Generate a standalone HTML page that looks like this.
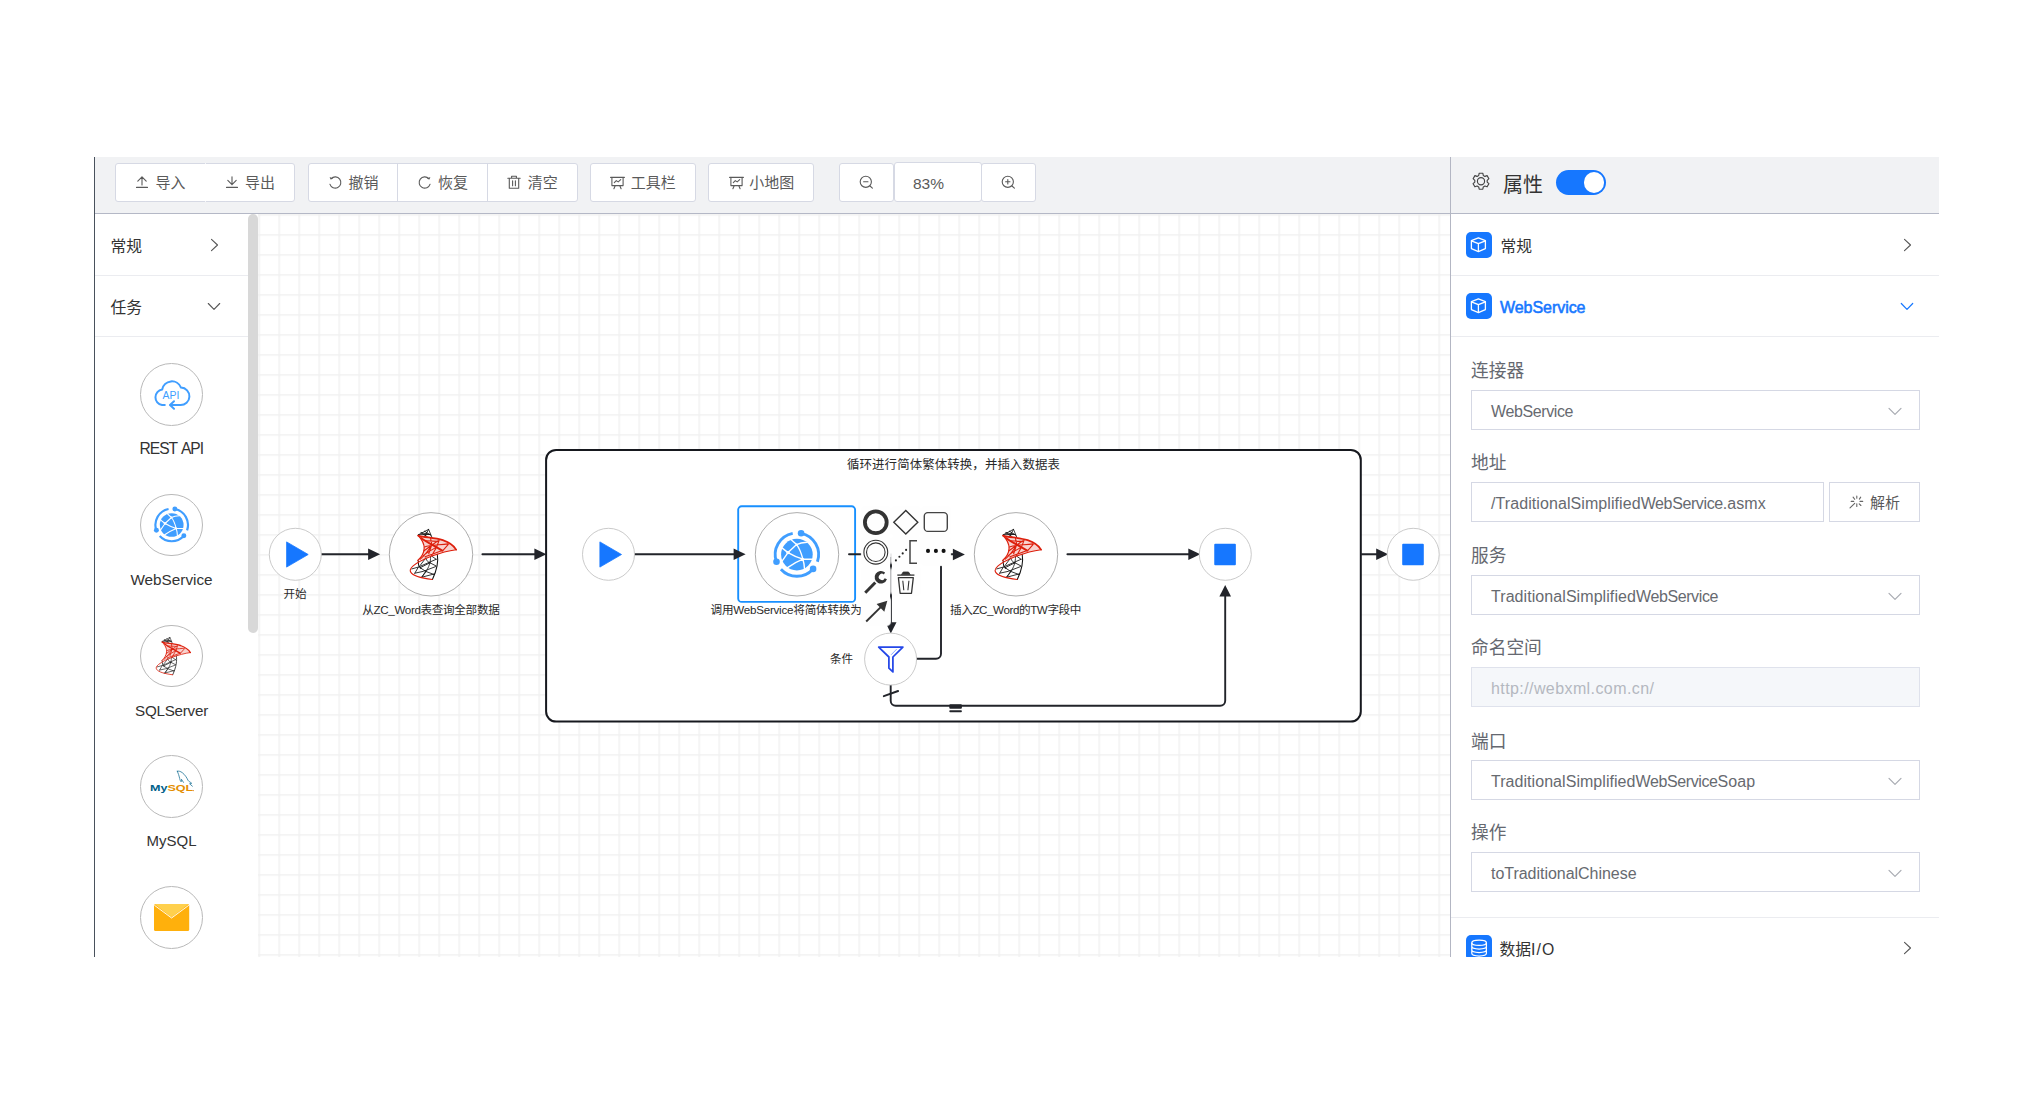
<!DOCTYPE html>
<html lang="zh-CN"><head><meta charset="utf-8"><title>流程设计器</title>
<style>
*{box-sizing:border-box;margin:0;padding:0}
html,body{width:2044px;height:1112px;background:#fff;overflow:hidden}
body{position:relative;font-family:"Liberation Sans","Noto Sans CJK SC",sans-serif;color:#333;-webkit-font-smoothing:antialiased}
.abs{position:absolute}
.t{position:absolute;white-space:nowrap;line-height:1;}
.btn{position:absolute;top:163px;height:39px;background:#fff;border:1px solid #d6d9e4;border-radius:3px}
.hdr{position:absolute;left:95px;top:157px;width:1844px;height:56px;background:#f1f2f4}
.hline{position:absolute;left:95px;top:213px;width:1844px;height:1px;background:#b4b8c6}
.lborder{position:absolute;left:94px;top:157px;width:1px;height:800px;background:#49515c}
.ht{position:absolute;white-space:nowrap;line-height:1;font-size:15px;color:#5a5a5a;top:175px}
.ico{position:absolute;overflow:visible}
.sep{position:absolute;height:1px;background:#ebecf0}
.lab{position:absolute;white-space:nowrap;line-height:1;font-size:17.700px;color:#656870;left:1471px}
.fld{position:absolute;left:1471px;width:449px;height:40px;border:1px solid #d5d8e4;background:#fff}
.fv{position:absolute;white-space:nowrap;line-height:1;color:#676a70;left:1491px}
.pl{position:absolute;white-space:nowrap;line-height:1;color:#333;text-align:center}
</style></head>
<body>
<div class="hdr"></div><div class="hline"></div><div class="lborder"></div>
<div class="btn" style="left:115px;width:180px;"></div>
<div class="btn" style="left:308px;width:270px;"></div>
<div class="abs" style="left:205px;top:163px;width:1px;height:39px;background:rgba(255,255,255,.75)"></div><div class="abs" style="left:397px;top:164px;width:1px;height:37px;background:#d6d9e4"></div><div class="abs" style="left:487px;top:164px;width:1px;height:37px;background:#d6d9e4"></div>
<div class="btn" style="left:590px;width:106px;"></div>
<div class="btn" style="left:708px;width:106px;"></div>
<div class="btn" style="left:839px;width:55px;"></div>
<div class="btn" style="left:981px;width:55px;"></div>
<div class="btn" style="left:894px;width:88px;top:162px;height:40px"></div>
<div class="ht" style="left:155.5px;">导入</div>
<div class="ht" style="left:245px;">导出</div>
<div class="ht" style="left:348.5px;">撤销</div>
<div class="ht" style="left:438px;">恢复</div>
<div class="ht" style="left:527.8px;">清空</div>
<div class="ht" style="left:630.8px;">工具栏</div>
<div class="ht" style="left:749.2px;">小地图</div>
<div class="ht" style="left:913px;font-size:15.5px;top:175.5px">83%</div>
<svg class="ico" style="left:136px;top:176px" width="12" height="12" viewBox="0 0 12 12"><path d="M0.5 11.4H11.5M6 0.8V9M1.8 5.2L6 0.8L10.2 5.2" stroke="#5a5a5a" fill="none" stroke-width="1.1" stroke-linecap="round" stroke-linejoin="round"/></svg>
<svg class="ico" style="left:226px;top:176px" width="12" height="12" viewBox="0 0 12 12"><path d="M0.5 11.4H11.5M6 0.8V8.7M1.8 4.4L6 8.7L10.2 4.4" stroke="#5a5a5a" fill="none" stroke-width="1.1" stroke-linecap="round" stroke-linejoin="round"/></svg>
<svg class="ico" style="left:328px;top:175px" width="15" height="15" viewBox="0 0 15 15"><path d="M3.2 3.6A5.6 5.6 0 1 1 1.9 9.2" stroke="#5a5a5a" fill="none" stroke-width="1.1" stroke-linecap="round" stroke-linejoin="round"/><path d="M1.6 1.9L2.6 4.4L5.3 3.6Z" fill="#5a5a5a" stroke="none"/></svg>
<svg class="ico" style="left:417px;top:175px" width="15" height="15" viewBox="0 0 15 15"><path d="M11.8 3.6A5.6 5.6 0 1 0 13.1 9.2" stroke="#5a5a5a" fill="none" stroke-width="1.1" stroke-linecap="round" stroke-linejoin="round"/><path d="M13.4 1.9L12.4 4.4L9.7 3.6Z" fill="#5a5a5a" stroke="none"/></svg>
<svg class="ico" style="left:507px;top:175px" width="14" height="14" viewBox="0 0 14 14"><path d="M0.8 3.2H13.2M4.6 3V1.3H9.4V3M2.3 3.4V13.2H11.7V3.4M5.6 5.8V10.8M8.4 5.8V10.8" stroke="#5a5a5a" fill="none" stroke-width="1.1" stroke-linecap="round" stroke-linejoin="round"/></svg>
<svg class="ico" style="left:610px;top:176px" width="15" height="14" viewBox="0 0 15 14"><path d="M0.6 1.4H14.4M1.9 1.6V9.6H13.1V1.6M5.2 9.8L3.9 12.8M9.8 9.8L11.1 12.8M4.3 6.6L6.3 4.6L8.2 5.9L10.7 3.7" stroke="#5a5a5a" fill="none" stroke-width="1.1" stroke-linecap="round" stroke-linejoin="round"/></svg>
<svg class="ico" style="left:728.5px;top:176px" width="15" height="14" viewBox="0 0 15 14"><path d="M0.6 1.4H14.4M1.9 1.6V9.6H13.1V1.6M5.2 9.8L3.9 12.8M9.8 9.8L11.1 12.8M4.3 6.6L6.3 4.6L8.2 5.9L10.7 3.7" stroke="#5a5a5a" fill="none" stroke-width="1.1" stroke-linecap="round" stroke-linejoin="round"/></svg>
<svg class="ico" style="left:859px;top:175px" width="15" height="15" viewBox="0 0 15 15"><circle cx="6.8" cy="6.8" r="5.6" stroke="#5a5a5a" fill="none" stroke-width="1.1" stroke-linecap="round" stroke-linejoin="round"/><path d="M11 11L13.4 13.2M4.6 6.8H9" stroke="#5a5a5a" fill="none" stroke-width="1.1" stroke-linecap="round" stroke-linejoin="round"/></svg>
<svg class="ico" style="left:1000.700px;top:175px" width="15" height="15" viewBox="0 0 15 15"><circle cx="6.8" cy="6.8" r="5.6" stroke="#5a5a5a" fill="none" stroke-width="1.1" stroke-linecap="round" stroke-linejoin="round"/><path d="M11 11L13.4 13.2M4.6 6.8H9M6.8 4.6V9" stroke="#5a5a5a" fill="none" stroke-width="1.1" stroke-linecap="round" stroke-linejoin="round"/></svg>
<div class="abs" style="left:1450px;top:157px;width:1px;height:800px;background:#b3b6c3"></div>
<svg class="ico" style="left:1471px;top:172px" width="20" height="20" viewBox="0 0 20 20"><g fill="none" stroke="#444" stroke-width="1.15" stroke-linejoin="round"><path d="M8.2 1.2h3.6l.5 2.3 1.6.9 2.2-.8 1.8 3.1-1.7 1.6v1.8l1.7 1.6-1.8 3.1-2.2-.8-1.6.9-.5 2.3H8.2l-.5-2.3-1.6-.9-2.2.8-1.8-3.1 1.7-1.6V8.300l-1.700-1.600 1.800-3.100 2.200.8 1.600-.9z"/><circle cx="10" cy="9.200" r="3.600"/></g></svg>
<div class="t" style="left:1503px;top:174.500px;font-size:20px;color:#333">属性</div>
<div class="abs" style="left:1556px;top:170px;width:50px;height:25px;border-radius:13px;background:#1677ff"></div><div class="abs" style="left:1583.500px;top:172.300px;width:20.500px;height:20.500px;border-radius:50%;background:#fff"></div>
<div class="t" style="left:110.500px;top:239px;font-size:15.800px;color:#333">常规</div>
<div class="t" style="left:110.500px;top:300px;font-size:15.800px;color:#333">任务</div>
<div class="sep" style="left:95px;top:275px;width:153px"></div><div class="sep" style="left:95px;top:336px;width:153px"></div>
<svg class="ico" style="left:210px;top:238px" width="9" height="14" viewBox="0 0 9 14"><path d="M1.5 1.300L7.500 7L1.500 12.700" stroke="#555" fill="none" stroke-width="1.1" stroke-linecap="round" stroke-linejoin="round"/></svg>
<svg class="ico" style="left:207px;top:302px" width="14" height="9" viewBox="0 0 14 9"><path d="M1.300 1.500L7 7.300L12.700 1.500" stroke="#555" fill="none" stroke-width="1.1" stroke-linecap="round" stroke-linejoin="round"/></svg>
<div class="abs" style="left:248px;top:214px;width:10px;height:419px;border-radius:5px;background:#d8d8d8"></div>
<div class="abs" style="left:140.0px;top:362.9px;width:62.800px;height:62.800px;border-radius:50%;border:1px solid #b9b9b9;background:#fff"></div>
<div class="abs" style="left:140.0px;top:493.7px;width:62.800px;height:62.800px;border-radius:50%;border:1px solid #b9b9b9;background:#fff"></div>
<div class="abs" style="left:140.0px;top:624.5px;width:62.800px;height:62.800px;border-radius:50%;border:1px solid #b9b9b9;background:#fff"></div>
<div class="abs" style="left:140.0px;top:755.1px;width:62.800px;height:62.800px;border-radius:50%;border:1px solid #b9b9b9;background:#fff"></div>
<div class="abs" style="left:140.0px;top:886.0px;width:62.800px;height:62.800px;border-radius:50%;border:1px solid #b9b9b9;background:#fff"></div>
<div class="pl" style="left:111.30000000000001px;width:120px;top:441px;font-size:15.6px;letter-spacing:-1.050px;word-spacing:1.900px">REST API</div>
<div class="pl" style="left:111.5px;width:120px;top:571.5px;font-size:15.3px;">WebService</div>
<div class="pl" style="left:111.5px;width:120px;top:702.8px;font-size:15.2px;letter-spacing:-0.250px">SQLServer</div>
<div class="pl" style="left:111.5px;width:120px;top:833.3px;font-size:15px;">MySQL</div>
<svg class="ico" style="left:1466px;top:232px" width="26" height="26" viewBox="0 0 26 26"><rect width="26" height="26" rx="5" fill="#1677ff"/><g fill="none" stroke="#fff" stroke-width="1.300" stroke-linejoin="round"><path d="M12.400 5.900L19.400 8.600V16.600L12.400 19.600L5.400 16.600V8.600Z"/><path d="M5.400 8.800L12.400 11.600L19.400 8.800M12.400 11.600V19.600"/></g></svg>
<svg class="ico" style="left:1466px;top:293px" width="26" height="26" viewBox="0 0 26 26"><rect width="26" height="26" rx="5" fill="#1677ff"/><g fill="none" stroke="#fff" stroke-width="1.300" stroke-linejoin="round"><path d="M12.400 5.900L19.400 8.600V16.600L12.400 19.600L5.400 16.600V8.600Z"/><path d="M5.400 8.800L12.400 11.600L19.400 8.800M12.400 11.600V19.600"/></g></svg>
<div class="t" style="left:1500.500px;top:239px;font-size:15.800px;color:#333">常规</div>
<div class="t" style="left:1500px;top:300px;font-size:16px;color:#1677ff;-webkit-text-stroke:0.550px #1677ff;letter-spacing:-0.050px">WebService</div>
<svg class="ico" style="left:1902.500px;top:238px" width="9" height="14" viewBox="0 0 9 14"><path d="M1.500 1.300L7.500 7L1.500 12.700" stroke="#555" fill="none" stroke-width="1.1" stroke-linecap="round" stroke-linejoin="round"/></svg>
<svg class="ico" style="left:1900px;top:302px" width="14" height="9" viewBox="0 0 14 9"><path d="M1.300 1.500L7 7.300L12.700 1.500" stroke="#1677ff" fill="none" stroke-width="1.200" stroke-linecap="round" stroke-linejoin="round"/></svg>
<div class="sep" style="left:1451px;top:275px;width:488px"></div><div class="sep" style="left:1451px;top:336px;width:488px"></div><div class="sep" style="left:1451px;top:917px;width:488px"></div>
<div class="lab" style="top:363px">连接器</div>
<div class="lab" style="top:454.5px">地址</div>
<div class="lab" style="top:548px">服务</div>
<div class="lab" style="top:639.5px">命名空间</div>
<div class="lab" style="top:733.8px">端口</div>
<div class="lab" style="top:825.4px">操作</div>
<div class="fld" style="top:390px;"></div><div class="fv" id="fv0" style="top:404.3px;font-size:16px;letter-spacing:0px;"><span style="letter-spacing:-0.390px">WebService</span></div>
<svg class="ico" style="left:1888px;top:406.5px" width="14" height="9" viewBox="0 0 14 9"><path d="M1 1.300L7 7.300L13 1.300" stroke="#a8abb2" fill="none" stroke-width="1.200" stroke-linecap="round" stroke-linejoin="round"/></svg>
<div class="fld" style="top:482px;width:353px;"></div><div class="fv" id="fv1" style="top:496.3px;font-size:16px;letter-spacing:0.08px;">/TraditionalSimplified<span style="letter-spacing:-0.390px">WebService</span>.asmx</div>
<div class="fld" style="top:575px;"></div><div class="fv" id="fv2" style="top:589.3px;font-size:16px;letter-spacing:0.07px;">TraditionalSimplified<span style="letter-spacing:-0.390px">WebService</span></div>
<svg class="ico" style="left:1888px;top:591.5px" width="14" height="9" viewBox="0 0 14 9"><path d="M1 1.300L7 7.300L13 1.300" stroke="#a8abb2" fill="none" stroke-width="1.200" stroke-linecap="round" stroke-linejoin="round"/></svg>
<div class="fld" style="top:667px;background:#f5f7fa;border-color:#dfe2ec;"></div><div class="fv" id="fv3" style="top:681.3px;font-size:16px;letter-spacing:0.41px;color:#b4b8c0;">http://webxml.com.cn/</div>
<div class="fld" style="top:760px;"></div><div class="fv" id="fv4" style="top:774.3px;font-size:16px;letter-spacing:0.05px;">TraditionalSimplified<span style="letter-spacing:-0.390px">WebService</span>Soap</div>
<svg class="ico" style="left:1888px;top:776.5px" width="14" height="9" viewBox="0 0 14 9"><path d="M1 1.300L7 7.300L13 1.300" stroke="#a8abb2" fill="none" stroke-width="1.200" stroke-linecap="round" stroke-linejoin="round"/></svg>
<div class="fld" style="top:852px;"></div><div class="fv" id="fv5" style="top:866.3px;font-size:16px;letter-spacing:-0.03px;">toTraditionalChinese</div>
<svg class="ico" style="left:1888px;top:868.5px" width="14" height="9" viewBox="0 0 14 9"><path d="M1 1.300L7 7.300L13 1.300" stroke="#a8abb2" fill="none" stroke-width="1.200" stroke-linecap="round" stroke-linejoin="round"/></svg>
<div class="fld" style="top:482px;left:1829px;width:91px"></div><div class="t" style="left:1870px;top:494.500px;font-size:15px;color:#5a5a5a">解析</div>
<svg class="ico" style="left:1849px;top:495px" width="14" height="14" viewBox="0 0 14 14"><g stroke="#666" stroke-width="1.100" stroke-linecap="round"><path d="M7.800 1V3.300M7.800 8.800V11.500M2.200 6.400H4.700M11 6.400H13.700M4.100 2.100L5.700 4.300M11.700 2.100L10.400 4.100M10.200 8.800L11.900 10.500M5.700 8.400L1 12.900"/></g></svg>
<svg class="ico" style="left:1466px;top:935px" width="26" height="26" viewBox="0 0 26 26"><rect width="26" height="26" rx="5" fill="#1677ff"/><g fill="none" stroke="#fff" stroke-width="1.250"><ellipse cx="13.100" cy="7.700" rx="7.300" ry="2.700"/><path d="M5.800 7.700V18.300C5.800 19.800 9 21 13.100 21S20.400 19.800 20.400 18.300V7.700M5.800 11.300C5.800 12.800 9 14 13.100 14S20.400 12.800 20.400 11.300M5.800 14.800C5.800 16.300 9 17.500 13.100 17.500S20.400 16.300 20.400 14.800"/></g></svg>
<div class="t" style="left:1499.500px;top:942px;font-size:15.800px;color:#333">数据<span style="letter-spacing:1px">I/O</span></div>
<svg class="ico" style="left:1903px;top:941px" width="9" height="14" viewBox="0 0 9 14"><path d="M1.500 1.300L7.500 7L1.500 12.700" stroke="#555" fill="none" stroke-width="1.1" stroke-linecap="round" stroke-linejoin="round"/></svg>
<svg class="abs" style="left:258px;top:214px" width="1192" height="743" viewBox="258 214 1192 743">
<defs>
<pattern id="grid" x="258.400" y="214.200" width="20" height="20" patternUnits="userSpaceOnUse"><path d="M0.800 0V20M0 0.800H20" stroke="#f1f1f1" stroke-width="1.500" fill="none"/></pattern>
<symbol id="sqlsrv" viewBox="0 0 46.500 50.500" overflow="visible">
 <g transform="scale(0.06112) translate(-160 -150)" fill="none" stroke-linecap="round" stroke-linejoin="round">
  <g stroke="#111" stroke-width="14">
   <path d="M297 243L468 152L522 283" stroke-width="13"/>
   <path d="M345 208L445 272M400 182L505 250M468 152L405 268M300 240L492 236M345 208L492 236"/>
   <path d="M610 560C626 650 612 800 530 972" stroke-width="17"/>
   <path d="M300 668C294 730 310 768 342 792" stroke-width="17"/>
   <path d="M500 592C506 700 462 820 352 938" stroke-width="13"/>
   <path d="M420 622C440 676 470 700 492 702" stroke-width="13"/>
   <path d="M192 800L300 770L592 642M242 870L380 840L582 762M362 934L560 882M330 780L420 840L552 890M300 770L242 870M490 700L592 752M420 622L330 742M520 592L592 642M420 840L352 938M330 780L490 700"/>
  </g>
  <path d="M297 255C400 287 560 285 700 330C800 365 880 420 918 485C800 500 650 540 520 590C470 610 380 650 290 662C350 610 390 540 395 470C400 400 370 330 297 255Z" fill="#dd1f0c" fill-opacity="0.200" stroke="none"/>
  <g stroke="#dd1f0c" stroke-width="18">
   <path d="M297 255C400 287 560 285 700 330C800 365 880 420 918 485" stroke-width="29"/>
   <path d="M918 485C800 500 650 540 520 590C420 630 300 680 215 750C170 790 155 822 175 852C210 912 350 950 527 974" stroke-width="18"/>
   <path d="M297 255C370 330 400 400 395 470C390 540 350 610 290 662" stroke-width="20"/>
   <path d="M345 292C420 350 520 400 692 500" stroke-width="31"/>
   <path d="M420 340L612 350M500 300L520 400L470 552M640 330L600 440L520 582M790 400L700 500M400 440C500 400 650 410 782 390M395 502C480 440 560 380 622 340M380 582C450 520 560 470 600 440M332 640C420 560 470 500 520 400M410 602L692 500"/>
  </g>
 </g>
</symbol>
<symbol id="globe" viewBox="-24 -24 48 48" overflow="visible">
 <circle r="15.800" fill="#409eff"/>
 <g fill="none" stroke="#fff" stroke-width="1.400" stroke-linecap="round">
  <path d="M-8.900 -2L-0.300 -10M-8.900 -2C-3 1.500 1 3 6 4.600M-0.300 -10C3 -6 4.500 -1 6 4.600M-8.900 -2L-14.600 -6.500M-8.900 -2L-15 6.800M-0.300 -10L-6 -15.200M-0.300 -10C3 -11.500 6 -12 10 -12.300M6 4.600H16M6 4.600C7 8 7.500 11 7.600 14.200M6 4.600C0 7 -5 10 -9.300 13"/>
 </g>
 <g fill="none" stroke="#409eff" stroke-width="2.900" stroke-linecap="butt">
  <path d="M4.200 -21.300A21.700 21.700 0 0 1 20.500 7.100"/>
  <path d="M16 14.600A21.700 21.700 0 0 1 -16 14.600"/>
  <path d="M-20.500 7.100A21.700 21.700 0 0 1 -4.200 -21.300"/>
 </g>
 <g fill="#fff"><circle cx="-8.900" cy="-2" r="1.700"/><circle cx="-0.300" cy="-10" r="1.200"/><circle cx="6" cy="4.600" r="1.300"/></g>
 <g fill="#409eff"><circle cx="4.200" cy="-21.300" r="3.300"/><circle cx="16.200" cy="14.300" r="3.300"/><circle cx="-20.400" cy="7.100" r="3.300"/></g>
</symbol>
</defs>
<rect x="258" y="214" width="1192" height="743" fill="url(#grid)"/>
<path d="M321.400 554.300H370" stroke="#22242a" stroke-width="1.900" fill="none" stroke-linecap="round" stroke-linejoin="round"/><path d="M380.1 554.3L368.1 548.5999999999999V560.0Z" fill="#22242a"/>
<path d="M482.400 554.300H536" stroke="#22242a" stroke-width="1.900" fill="none" stroke-linecap="round" stroke-linejoin="round"/><path d="M546.4 554.3L534.4 548.5999999999999V560.0Z" fill="#22242a"/>
<rect x="546.100" y="449.900" width="814.700" height="271.700" rx="10" fill="#fff" fill-opacity="0.960" stroke="#16181e" stroke-width="2"/>
<path d="M1361.500 554.300H1378" stroke="#22242a" stroke-width="1.900" fill="none" stroke-linecap="round" stroke-linejoin="round"/><path d="M1388.2 554.3L1376.2 548.5999999999999V560.0Z" fill="#22242a"/>
<rect x="738.200" y="506.300" width="116.900" height="95.600" rx="3.500" fill="none" stroke="#1890ff" stroke-width="1.900"/>
<path d="M634.800 554.300H735" stroke="#22242a" stroke-width="1.900" fill="none" stroke-linecap="round" stroke-linejoin="round"/><path d="M745.6 554.3L733.6 548.5999999999999V560.0Z" fill="#22242a"/>
<path d="M849 554.300H870M945 554.300H954" stroke="#22242a" stroke-width="1.900" fill="none" stroke-linecap="round" stroke-linejoin="round"/><path d="M964.9 554.5L952.9 548.8V560.2Z" fill="#22242a"/>
<path d="M891 554.300V623" stroke="#22242a" stroke-width="1.900" fill="none" stroke-linecap="round" stroke-linejoin="round"/><path d="M890.800 633.500L885.500 622.200H896.500Z" fill="#22242a"/>
<path d="M916.600 658.700H936A5 5 0 0 0 941 653.700V554.300" stroke="#22242a" stroke-width="1.900" fill="none" stroke-linecap="round" stroke-linejoin="round"/>
<path d="M890.700 684.700V700.700A5 5 0 0 0 895.700 705.700H1220.200A5 5 0 0 0 1225.200 700.700V596" stroke="#22242a" stroke-width="1.900" fill="none" stroke-linecap="round" stroke-linejoin="round"/><path d="M1225.200 585L1219.400 596.600H1231Z" fill="#22242a"/>
<path d="M883.800 696.200L898.100 691" stroke="#22242a" stroke-width="1.900" fill="none" stroke-linecap="round" stroke-linejoin="round"/>
<rect x="949.300" y="704.200" width="12.600" height="4.600" rx="1" fill="#22242a"/><rect x="949.300" y="710.300" width="12.600" height="1.900" rx=".9" fill="#22242a"/>
<path d="M1067.400 554.300H1190" stroke="#22242a" stroke-width="1.900" fill="none" stroke-linecap="round" stroke-linejoin="round"/><path d="M1200.3 554.3L1188.3 548.5999999999999V560.0Z" fill="#22242a"/>
<circle cx="295.3" cy="554.3" r="26" fill="#fff" stroke="#c4c4c4" stroke-width="0.900"/><path d="M286.6 541.9L308.2 554.5L286.6 567.0999999999999Z" fill="#1677ff" stroke="#1677ff" stroke-width="0.800" stroke-linejoin="round"/>
<circle cx="608.5" cy="554.3" r="26" fill="#fff" stroke="#c4c4c4" stroke-width="0.900"/><path d="M599.9 541.9L621.5 554.5L599.9 567.0999999999999Z" fill="#1677ff" stroke="#1677ff" stroke-width="0.800" stroke-linejoin="round"/>
<circle cx="1225.3" cy="554.3" r="26" fill="#fff" stroke="#c4c4c4" stroke-width="0.900"/><rect x="1214.25" y="543.8" width="21.600" height="21.400" rx="1" fill="#1677ff"/>
<circle cx="1413.2" cy="554.3" r="26" fill="#fff" stroke="#c4c4c4" stroke-width="0.900"/><rect x="1402.2" y="543.8" width="21.600" height="21.400" rx="1" fill="#1677ff"/>
<circle cx="890.6" cy="659.1" r="26" fill="#fff" stroke="#c4c4c4" stroke-width="0.900"/>
<g fill="none" stroke="#2447e8" stroke-linejoin="round" stroke-linecap="round"><path d="M878.700 647.100H902.900L892.900 657V671.900L888.900 668.200V657Z" stroke-width="1.750"/><path d="M896.400 649.400L891.400 654.500" stroke="#7d9dff" stroke-width="0.900"/></g>
<circle cx="431" cy="554.3" r="41.700" fill="#fff" stroke="#a4a4a4" stroke-width="0.900"/>
<use href="#sqlsrv" x="409.800" y="529.200" width="46.500" height="50.500"/>
<circle cx="797" cy="554.3" r="41.700" fill="#fff" stroke="#a4a4a4" stroke-width="0.900"/>
<use href="#globe" x="772.900" y="530.600" width="48" height="48"/>
<circle cx="1016" cy="554.3" r="41.700" fill="#fff" stroke="#a4a4a4" stroke-width="0.900"/>
<use href="#sqlsrv" x="994.700" y="529.200" width="46.500" height="50.500"/>
<text x="295.1" y="598.3" text-anchor="middle" font-size="11.6" style="font-family:'Liberation Sans','Noto Sans CJK SC',sans-serif;fill:#2a2a2a">开始</text>
<text x="431" y="614.1" text-anchor="middle" font-size="11.6" style="font-family:'Liberation Sans','Noto Sans CJK SC',sans-serif;fill:#2a2a2a" textLength="137.5" lengthAdjust="spacing">从ZC_Word表查询全部数据</text>
<text x="953.5" y="469" text-anchor="middle" font-size="12.45" style="font-family:'Liberation Sans','Noto Sans CJK SC',sans-serif;fill:#2a2a2a" textLength="213" lengthAdjust="spacing">循环进行简体繁体转换，并插入数据表</text>
<text x="797.5" y="614.1" text-anchor="middle" font-size="11.6" style="font-family:'Liberation Sans','Noto Sans CJK SC',sans-serif;fill:#2a2a2a" textLength="174" lengthAdjust="spacing">调用WebService将简体转换为繁体</text>
<text x="1015.7" y="614.1" text-anchor="middle" font-size="11.6" style="font-family:'Liberation Sans','Noto Sans CJK SC',sans-serif;fill:#2a2a2a" textLength="131.4" lengthAdjust="spacing">插入ZC_Word的TW字段中</text>
<text x="841.5" y="662.7" text-anchor="middle" font-size="11.6" style="font-family:'Liberation Sans','Noto Sans CJK SC',sans-serif;fill:#2a2a2a">条件</text>
</svg>
<div class="abs" style="left:862px;top:507px;width:27.500px;height:27.500px;border-radius:3.700px;background:#fefefe;box-shadow:0 0 1px 0.650px #fefefe"></div><div class="abs" style="left:892px;top:507px;width:27.500px;height:27.500px;border-radius:3.700px;background:#fefefe;box-shadow:0 0 1px 0.650px #fefefe"></div><div class="abs" style="left:922px;top:507px;width:27.500px;height:27.500px;border-radius:3.700px;background:#fefefe;box-shadow:0 0 1px 0.650px #fefefe"></div><div class="abs" style="left:862px;top:537px;width:27.500px;height:27.500px;border-radius:3.700px;background:#fefefe;box-shadow:0 0 1px 0.650px #fefefe"></div><div class="abs" style="left:892px;top:537px;width:27.500px;height:27.500px;border-radius:3.700px;background:#fefefe;box-shadow:0 0 1px 0.650px #fefefe"></div><div class="abs" style="left:922px;top:537px;width:27.500px;height:27.500px;border-radius:3.700px;background:#fefefe;box-shadow:0 0 1px 0.650px #fefefe"></div><div class="abs" style="left:862px;top:567px;width:27.500px;height:27.500px;border-radius:3.700px;background:#fefefe;box-shadow:0 0 1px 0.650px #fefefe"></div><div class="abs" style="left:892px;top:567px;width:27.500px;height:27.500px;border-radius:3.700px;background:#fefefe;box-shadow:0 0 1px 0.650px #fefefe"></div><div class="abs" style="left:862px;top:597px;width:27.500px;height:27.500px;border-radius:3.700px;background:#fefefe;box-shadow:0 0 1px 0.650px #fefefe"></div>
<svg class="abs" style="left:858px;top:504px" width="100" height="126" viewBox="858 504 100 126">
<circle cx="875.800" cy="522.300" r="10.900" fill="none" stroke="#333" stroke-width="3.800"/>
<path d="M893.800 522.300L905.800 510.600L917.800 522.300L905.800 534Z" fill="none" stroke="#333" stroke-width="1.400" stroke-linejoin="miter"/>
<rect x="924.300" y="512.600" width="23" height="18.800" rx="3.500" fill="none" stroke="#444" stroke-width="1.400"/>
<circle cx="875.800" cy="552.200" r="11.900" fill="none" stroke="#333" stroke-width="1.100"/><circle cx="875.800" cy="552.200" r="9.300" fill="none" stroke="#333" stroke-width="1.100"/>
<circle cx="895.9" cy="560.4" r="1.050" fill="#222"/>
<circle cx="899.4" cy="556.7" r="1.050" fill="#222"/>
<circle cx="902.7" cy="553.4" r="1.050" fill="#222"/>
<circle cx="906.1" cy="549.9" r="1.050" fill="#222"/>
<path d="M917 540.700H910V563.300H917" fill="none" stroke="#444" stroke-width="1.500"/>
<circle cx="928" cy="550.900" r="2.050" fill="#111"/>
<circle cx="935.9" cy="550.900" r="2.050" fill="#111"/>
<circle cx="943.6" cy="550.900" r="2.050" fill="#111"/>
<g fill="#333"><path d="M866.310 593.750L876.370 583.550L874.230 581.450L864.170 591.650Z"/><path d="M885.060 572.400A6.330 6.330 0 1 0 886.950 579.300L884.710 578.210A3.100 3.100 0 1 1 883.890 574.530Z"/></g>
<g fill="none" stroke="#333" stroke-width="1.300" stroke-linejoin="round"><path d="M898.400 577.600H913.300L911.500 593.300H900.100Z"/><path d="M902.800 580.800L903.800 590.200M908.900 580.800L907.900 590.200" stroke-width="1.100"/><path d="M897.300 575.100H914.400" stroke-width="1.300"/><path d="M901.500 574.600L903.200 572H908.500L910.200 574.600Z" fill="#333" stroke-width=".8"/></g>
<path d="M866.200 621.500L881.500 606.400" stroke="#333" stroke-width="1.900" fill="none"/><path d="M887.300 600.700L884.300 611.700L876.600 604Z" fill="#333"/>
<path d="M890.700 557V597" stroke="#22242a" stroke-opacity="0.280" stroke-width="1" fill="none"/>
</svg>
<svg class="abs" style="left:95px;top:340px" width="153" height="617" viewBox="95 340 153 617">
<g fill="none" stroke="#409eff" stroke-width="2" stroke-linecap="round" stroke-linejoin="round"><path d="M164.800 405.100H162A7.900 7.900 0 0 1 162.200 389.500A9.800 9.800 0 0 1 181 387.600A8.750 8.750 0 0 1 180.300 405.100H170.500"/><path d="M174 401.300L170 405L174 408.700"/></g>
<text x="170.900" y="398.700" text-anchor="middle" font-size="10.400" style="font-family:'Liberation Sans',sans-serif;fill:#409eff">API</text>
<use href="#globe" x="153.700" y="507" width="36" height="36"/>
<use href="#sqlsrv" x="155.900" y="637.300" width="34.600" height="37.600"/>
<text x="150" y="791.300" font-size="9.500" font-weight="bold" textLength="43.300" lengthAdjust="spacingAndGlyphs" style="font-family:'Liberation Sans',sans-serif"><tspan fill="#00618a">My</tspan><tspan fill="#e48e00">SQL</tspan></text>
<path d="M177.300 771.200C178.500 770.800 180.500 771.300 182.300 772.700C185 774.800 186.700 777.500 188 780.300C188.800 781.800 190.800 782.200 191.700 783.300L189.600 783.800L192.400 786.200M177.300 771.200C178.200 773.300 179.200 775.800 179.700 778.500C180 780.300 180.500 781.300 181.200 781.800L181.500 779.300L183.500 782.400" fill="none" stroke="#00618a" stroke-width="0.700" stroke-linecap="round" stroke-linejoin="round"/>
<circle cx="193.300" cy="790.600" r=".6" fill="#e48e00"/>
<rect x="154" y="904.100" width="35.200" height="26.800" rx="1.500" fill="#ffb00c"/><path d="M154.600 904.100H188.600L171.600 917.500Z" fill="#ffd04d"/><path d="M154.300 905.200L171.600 918L188.900 905.200" fill="none" stroke="#fff" stroke-width="0.900"/>
</svg>
<div class="abs" style="left:0;top:957px;width:2044px;height:155px;background:#fff"></div>
</body></html>
